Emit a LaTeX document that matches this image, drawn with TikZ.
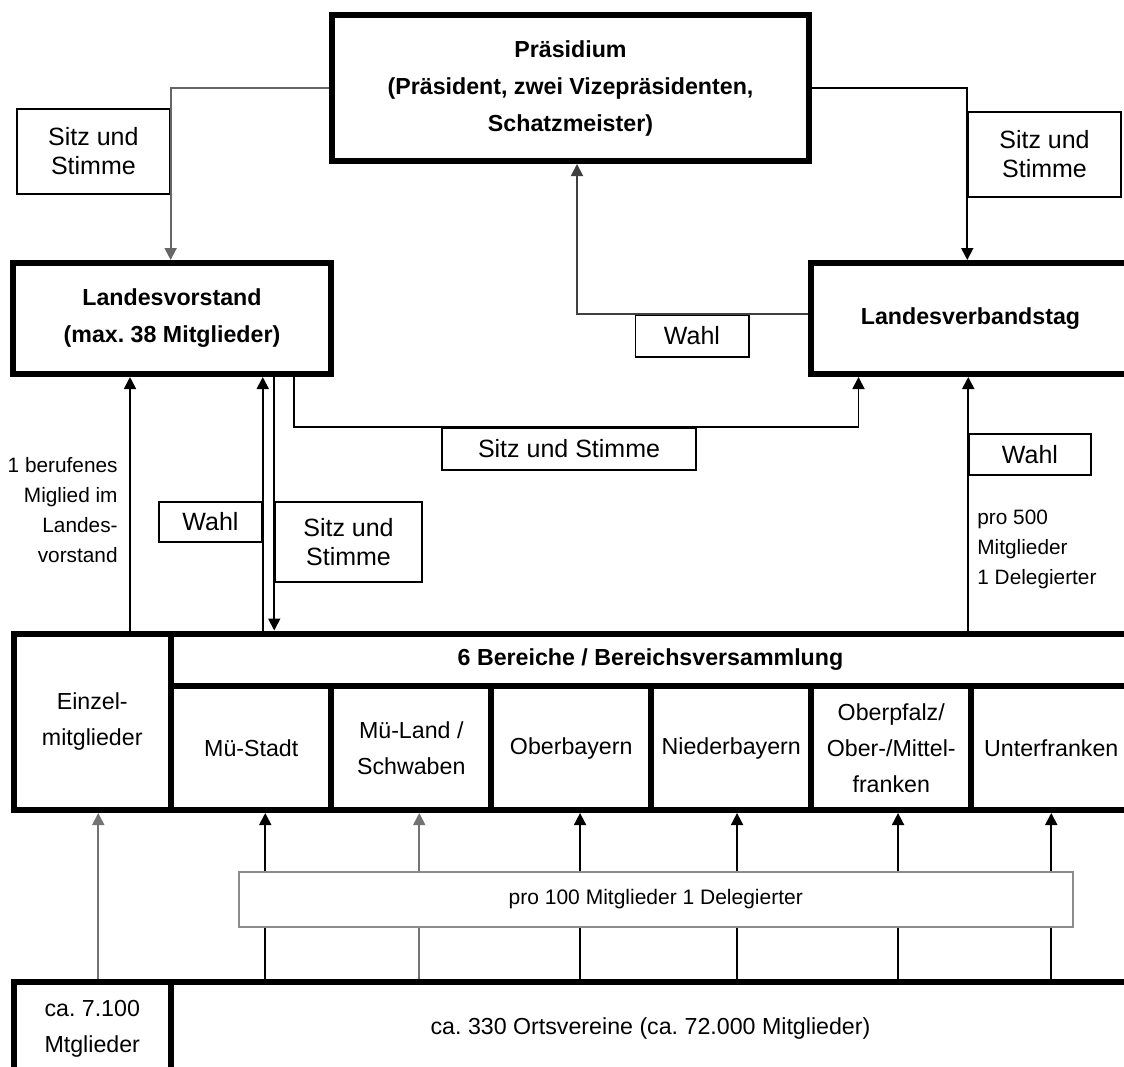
\documentclass[tikz,border=0pt]{standalone}
\usepackage{fontspec}
\setmainfont{Liberation Sans}
\usepackage{xcolor}
\usepackage{tikz}
\usetikzlibrary{arrows.meta}
\frenchspacing
\tikzset{
    bigbox/.style={rectangle, draw, line width=3pt, fill=white, inner sep=0pt, align=center, font=\fontsize{11.6}{18.5}\selectfont\bfseries},
    unitbox/.style={rectangle, draw, line width=3pt, inner sep=0pt, align=center, minimum width=80pt, minimum height=62pt, font=\fontsize{11.6}{18}\selectfont},
    labelbox/.style={rectangle, draw, line width=0.75pt, fill=white, inner sep=0pt, align=center, font=\fontsize{12.5}{14.5}\selectfont},
    note/.style={inner sep=0pt, font=\fontsize{10.4}{15}\selectfont},
    arrow/.style={-{Triangle[length=6pt, width=6pt]}, line width=0.9pt}
}

\begin{document}
\begin{tikzpicture}[x=0.5pt, y=-0.5pt]
            \useasboundingbox (0,0) rectangle (1124,1066);

            \node (praes) [bigbox, minimum width=238.5pt, minimum height=73pt] at (570.5,88) {Präsidium\\(Präsident, zwei Vizepräsidenten,\\Schatzmeister)};
            \node (lvorst) [bigbox, minimum width=158.75pt, minimum height=55.5pt] at (172,318.5) {Landesvorstand\\(max. 38 Mitglieder)};
            \node (lvtag) [bigbox, minimum width=159.5pt, minimum height=55.5pt] at (970.5,318.5) {Landesverbandstag};

            \node (einzel) [unitbox, minimum width=78.75pt, minimum height=88.25pt] at (92.25,721.75) {Einzel-\\mitglieder};
            \node (header) [bigbox, minimum width=479.5pt, minimum height=26.25pt] at (650.5,659.75) {6 Bereiche / Bereichsversammlung};
            \node (mstadt) [unitbox] at (251.25,748) {Mü-Stadt};
            \node (mland) [unitbox] at (411.25,748) {Mü-Land /\\Schwaben};
            \node (obb) [unitbox] at (571.25,748) {Oberbayern};
            \node (ndb) [unitbox] at (731.25,748) {Niederbayern};
            \node (opf) [unitbox] at (891.25,748) {Oberpfalz/\\Ober-/Mittel-\\franken};
            \node (ufr) [unitbox] at (1051.25,748) {Unterfranken};

            \node (mtgl) [unitbox, minimum width=78.75pt, minimum height=47pt] at (92.25,1028.5) {ca. 7.100\\Mtglieder};
            \node (ortsv) [unitbox, minimum width=479.5pt, minimum height=47pt] at (650.5,1028.5) {ca. 330 Ortsvereine (ca. 72.000 Mitglieder)};

            \node (sitzL) [labelbox, minimum width=76.5pt, minimum height=42.5pt] at (93.4,151.5) {Sitz und\\Stimme};
            \node (sitzR) [labelbox, minimum width=76.5pt, minimum height=42.5pt] at (1044.5,154.5) {Sitz und\\Stimme};
            \node (wahlTop) [labelbox, minimum width=56.75pt, minimum height=21pt] at (692,336) {Wahl};
            \node (sitzMid) [labelbox, minimum width=127pt, minimum height=21pt] at (569,449) {Sitz und Stimme};
            \node (wahlL) [labelbox, minimum width=51.5pt, minimum height=20pt] at (210.5,522) {Wahl};
            \node (sitzL2) [labelbox, minimum width=73.5pt, minimum height=40pt] at (348.5,542) {Sitz und\\Stimme};
            \node (wahlR) [labelbox, minimum width=61pt, minimum height=20.5pt] at (1030,454.5) {Wahl};

            \node (berufen) [note, align=right, anchor=east] at (118,510) {1 berufenes\\Miglied im\\Landes-\\vorstand};
            \node (pro500) [note, align=left, anchor=west] at (977,549) {pro 500\\Mitglieder\\1 Delegierter};

            \coordinate (lvA) at ([xshift=-21pt]lvorst.south);
            \coordinate (lvB) at ([xshift=61pt]lvorst.south);
            \coordinate (lvC) at ([xshift=-56pt]lvtag.south);

            \draw[arrow, black!60] (praes.west) -| (sitzL.east |- lvorst.north);
            \draw[arrow] (praes.east) -| (sitzR.west |- lvtag.north);
            \draw[arrow, black!75] (lvtag.west |- wahlTop.north) -| ([xshift=3.25pt]praes.south);

            \draw[arrow] (lvA |- einzel.north) -- (lvA);
            \draw[arrow] (wahlL.east |- header.north) -- (wahlL.east |- lvorst.south);
            \draw[arrow] (sitzL2.west |- lvorst.south) -- (sitzL2.west |- header.north);
            \draw[arrow] (lvB) |- (lvC |- sitzMid.north) -- (lvC);
            \draw[arrow] (wahlR.west |- header.north) -- (wahlR.west |- lvtag.south);

            \draw[arrow, black!55] ([xshift=3pt]mtgl.north) -- ([xshift=3pt]einzel.south);
            \draw[arrow] ([xshift=7pt]mstadt.south |- ortsv.north) -- ([xshift=7pt]mstadt.south);
            \draw[arrow, black!55] ([xshift=4pt]mland.south |- ortsv.north) -- ([xshift=4pt]mland.south);
            \draw[arrow] ([xshift=4.4pt]obb.south |- ortsv.north) -- ([xshift=4.4pt]obb.south);
            \draw[arrow] ([xshift=2.9pt]ndb.south |- ortsv.north) -- ([xshift=2.9pt]ndb.south);
            \draw[arrow] ([xshift=3.4pt]opf.south |- ortsv.north) -- ([xshift=3.4pt]opf.south);
            \draw[arrow] (ufr.south |- ortsv.north) -- (ufr.south);

            \node (deleg) [labelbox, draw=black!45, line width=1pt, minimum width=416.8pt, minimum height=27.5pt, font=\fontsize{10.5}{12}\selectfont] at (655.8,899.5) {pro 100 Mitglieder 1 Delegierter};
        \end{tikzpicture}
\end{document}
